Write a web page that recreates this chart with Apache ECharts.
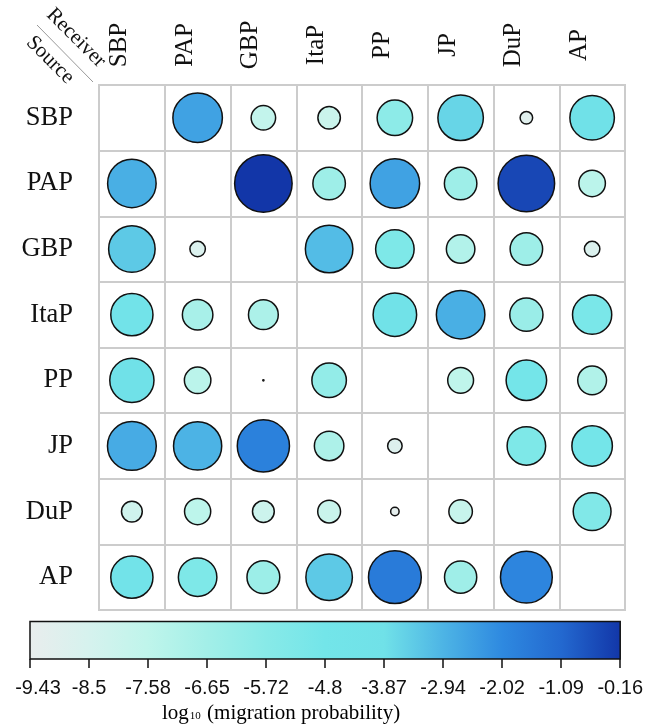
<!DOCTYPE html>
<html>
<head>
<meta charset="utf-8">
<script src="https://cdn.jsdelivr.net/npm/echarts@6/dist/echarts.min.js"></script>
<style>
  html, body { margin: 0; padding: 0; background: #ffffff; }
  #chart { width: 646px; height: 725px; }
</style>
</head>
<body>
<div id="chart"></div>
<script>
// ---- Data ----
const receivers = ['SBP', 'PAP', 'GBP', 'ItaP', 'PP', 'JP', 'DuP', 'AP'];
const sources   = ['SBP', 'PAP', 'GBP', 'ItaP', 'PP', 'JP', 'DuP', 'AP'];

// log10(migration probability), row = source, column = receiver (null = diagonal)
const fromSBP  = [null, -2.56, -7.75, -8.01, -5.90, -3.63, -8.99, -3.88];
const fromPAP  = [-2.83, null, -0.16, -6.47, -2.56, -6.47, -0.48, -7.46];
const fromGBP  = [-3.37, -8.76, null, -3.10, -5.27, -7.15, -6.47, -8.76];
const fromItaP = [-4.44, -6.82, -6.94, null, -4.12, -2.83, -6.34, -5.12];
const fromPP   = [-3.95, -7.46, -9.43, -6.09, null, -7.56, -4.83, -7.10];
const fromJP   = [-2.75, -2.92, -1.79, -6.99, -8.84, null, -5.27, -4.83];
const fromDuP  = [-8.22, -7.51, -8.10, -7.97, -9.23, -7.88, null, -5.42];
const fromAP   = [-4.44, -5.27, -6.41, -3.37, -1.61, -6.52, -1.91, null];

const colorbarTicks = ['-9.43', '-8.5', '-7.58', '-6.65', '-5.72', '-4.8', '-3.87', '-2.94', '-2.02', '-1.09', '-0.16'];
const valueMin = -9.43;
const valueMax = -0.16;

const colorStops = ['#e9eded', '#d6f2ee', '#bff5eb', '#a3efe8', '#88eae8', '#73e5e9',
                    '#70e1e8', '#4db4e5', '#2e89e0', '#2368cf', '#1236a8'];

// ---- Build ----
const matrix = [fromSBP, fromPAP, fromGBP, fromItaP, fromPP, fromJP, fromDuP, fromAP];
const points = [];
matrix.forEach((row, i) => {
  row.forEach((v, j) => {
    if (v !== null) points.push([j, i, v]);
  });
});

const serif = "'Liberation Serif', 'DejaVu Serif', serif";
const sans = "'Liberation Sans', Arial, sans-serif";

const chart = echarts.init(document.getElementById('chart'), null, { renderer: 'canvas' });

const gradient = new echarts.graphic.LinearGradient(0, 0, 1, 0,
  colorStops.map((c, k) => ({ offset: k / (colorStops.length - 1), color: c })));

const option = {
  backgroundColor: '#ffffff',
  animation: false,
  grid: [
    { left: 99, top: 85, width: 526, height: 525, show: true,
      borderColor: '#cccccc', borderWidth: 2, backgroundColor: 'transparent', containLabel: false },
    { left: 30, top: 621.5, width: 593, height: 37.5, show: true,
      borderColor: '#111111', borderWidth: 1.5, backgroundColor: gradient, containLabel: false }
  ],
  visualMap: {
    show: false,
    type: 'continuous',
    seriesIndex: 0,
    dimension: 2,
    min: valueMin,
    max: valueMax,
    inRange: { color: colorStops }
  },
  xAxis: [
    {
      gridIndex: 0,
      type: 'category',
      data: receivers,
      position: 'top',
      boundaryGap: true,
      axisLine: { show: false },
      axisTick: { show: false },
      splitLine: { show: true, interval: 0, lineStyle: { color: '#cccccc', width: 2 } },
      axisLabel: {
        interval: 0,
        rotate: -90,
        margin: 40,
        align: 'center',
        verticalAlign: 'bottom',
        fontFamily: serif,
        fontSize: 25,
        color: '#111111'
      }
    },
    {
      gridIndex: 1,
      type: 'value',
      min: 0,
      max: colorbarTicks.length - 1,
      interval: 1,
      position: 'bottom',
      axisLine: { show: false },
      splitLine: { show: false },
      axisTick: { show: true, length: 9, lineStyle: { color: '#111111', width: 1.5 } },
      axisLabel: {
        margin: 19,
        fontFamily: sans,
        fontSize: 20,
        color: '#111111',
        formatter: (v) => {
          const k = Math.round(v);
          return k === 0 ? '{first|' + colorbarTicks[k] + '}' : colorbarTicks[k];
        },
        rich: {
          first: { fontFamily: sans, fontSize: 20, color: '#111111', padding: [0, 0, 0, 16] }
        }
      }
    }
  ],
  yAxis: [
    {
      gridIndex: 0,
      type: 'category',
      data: sources,
      inverse: true,
      boundaryGap: true,
      axisLine: { show: false },
      axisTick: { show: false },
      splitLine: { show: true, interval: 0, lineStyle: { color: '#cccccc', width: 2 } },
      axisLabel: {
        interval: 0,
        margin: 26,
        fontFamily: serif,
        fontSize: 26.5,
        color: '#111111'
      }
    },
    { gridIndex: 1, type: 'value', min: 0, max: 1, show: false }
  ],
  series: [
    {
      type: 'scatter',
      xAxisIndex: 0,
      yAxisIndex: 0,
      data: points,
      symbol: 'circle',
      symbolSize: (val) => {
        const t = (val[2] - valueMin) / (valueMax - valueMin);
        return Math.max(1.2, 57.5 * Math.sqrt(Math.max(0, t)));
      },
      itemStyle: { borderColor: '#111111', borderWidth: 1.5, opacity: 1 },
      emphasis: { disabled: true }
    }
  ],
  graphic: [
    { type: 'line', shape: { x1: 37, y1: 25, x2: 93, y2: 82 },
      style: { stroke: '#999999', lineWidth: 1 }, silent: true },
    { type: 'text', x: 76, y: 38, rotation: -Math.PI / 4,
      style: { text: 'Receiver', fontFamily: serif, fontSize: 21, fill: '#111111',
               textAlign: 'center', textVerticalAlign: 'middle', align: 'center', verticalAlign: 'middle' } },
    { type: 'text', x: 50, y: 60, rotation: -Math.PI / 4,
      style: { text: 'Source', fontFamily: serif, fontSize: 21, fill: '#111111',
               textAlign: 'center', textVerticalAlign: 'middle', align: 'center', verticalAlign: 'middle' } },
    { type: 'text', x: 162, y: 713,
      style: {
        text: '{a|log}{s|10}{a| (migration probability)}',
        textAlign: 'left', textVerticalAlign: 'middle', align: 'left', verticalAlign: 'middle',
        rich: {
          a: { fontFamily: serif, fontSize: 21, color: '#111111' },
          s: { fontFamily: serif, fontSize: 11, color: '#111111', verticalAlign: 'bottom', padding: [0, 1, 2, 1] }
        }
      } }
  ]
};

chart.setOption(option);
</script>
</body>
</html>
